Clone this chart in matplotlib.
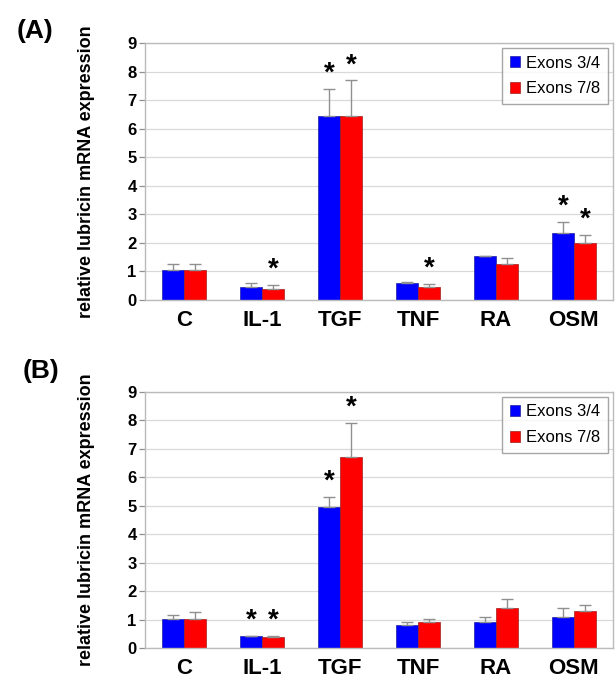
import matplotlib
matplotlib.use('Agg')
import matplotlib.pyplot as plt
import numpy as np

plt.rcParams['font.family'] = ['Liberation Sans', 'DejaVu Sans']

categories = ['C', 'IL-1', 'TGF', 'TNF', 'RA', 'OSM']
series_names = ['Exons 3/4', 'Exons 7/8']

# panel A
a_ex34 = [1.05, 0.44, 6.46, 0.61, 1.54, 2.34]
a_ex34_err = [0.20, 0.17, 0.93, 0.03, 0.0, 0.39]
a_ex78 = [1.05, 0.37, 6.46, 0.47, 1.25, 2.01]
a_ex78_err = [0.22, 0.15, 1.23, 0.09, 0.21, 0.27]
a_star34 = [False, False, True, False, False, True]
a_star78 = [False, True, True, True, False, True]

# panel B
b_ex34 = [1.04, 0.43, 4.95, 0.82, 0.92, 1.09]
b_ex34_err = [0.13, 0.0, 0.37, 0.10, 0.17, 0.33]
b_ex78 = [1.04, 0.39, 6.72, 0.92, 1.42, 1.31]
b_ex78_err = [0.24, 0.04, 1.20, 0.12, 0.30, 0.21]
b_star34 = [False, True, True, False, False, False]
b_star78 = [False, True, True, False, False, False]

fig = plt.figure(figsize=(6.16, 6.84), dpi=100)
axA = fig.add_axes([0.2354, 0.5614, 0.7596, 0.3757])
axB = fig.add_axes([0.2354, 0.0522, 0.7596, 0.3751])

w = 0.28
x = np.arange(len(categories))


def draw(ax, v1, e1, v2, e2, s1, s2):
    ax.set_axisbelow(True)
    ax.yaxis.grid(True, color='#d9d9d9', linewidth=0.9)
    ekw = dict(ecolor='#909090', elinewidth=1.0, capsize=4, capthick=1.0)
    ax.bar(x - w / 2, v1, w, color='#0000ff', edgecolor='#2020a0', linewidth=0.5,
           yerr=[np.zeros(len(e1)), e1], error_kw=ekw, label=series_names[0])
    ax.bar(x + w / 2, v2, w, color='#ff0000', edgecolor='#a02020', linewidth=0.5,
           yerr=[np.zeros(len(e2)), e2], error_kw=ekw, label=series_names[1])
    for i in range(len(x)):
        if s1[i]:
            ax.annotate('*', (x[i] - w / 2, v1[i] + e1[i]), xytext=(0, 1.5),
                        textcoords='offset points', ha='center', va='bottom',
                        fontsize=20, fontweight='bold')
        if s2[i]:
            ax.annotate('*', (x[i] + w / 2, v2[i] + e2[i]), xytext=(0, 1.5),
                        textcoords='offset points', ha='center', va='bottom',
                        fontsize=20, fontweight='bold')
    ax.set_xlim(-0.5, 5.5)
    ax.set_ylim(0, 9)
    ax.set_yticks(range(10))
    ax.set_xticks(x)
    ax.set_xticklabels(categories, fontsize=16, fontweight='bold')
    ax.tick_params(axis='x', length=0, pad=7)
    ax.tick_params(axis='y', length=4, width=0.9, color='#909090', pad=2, labelsize=12)
    for t in ax.get_yticklabels():
        t.set_fontweight('bold')
    for sp in ax.spines.values():
        sp.set_color('#bbbbbb')
        sp.set_linewidth(1.0)
    ax.set_ylabel('relative lubricin mRNA expression', fontsize=13, fontweight='bold')
    ax.yaxis.set_label_coords(-0.107, 0.5)
    leg = ax.legend(loc='upper right', fontsize=12, frameon=True, fancybox=False,
                    edgecolor='#909090', handlelength=0.65, handleheight=0.65,
                    handletextpad=0.35, borderaxespad=0.3, labelspacing=0.65,
                    borderpad=0.45)
    leg.get_frame().set_linewidth(1.0)


draw(axA, a_ex34, a_ex34_err, a_ex78, a_ex78_err, a_star34, a_star78)
draw(axB, b_ex34, b_ex34_err, b_ex78, b_ex78_err, b_star34, b_star78)

fig.text(0.027, 0.955, '(A)', fontsize=19, fontweight='bold', ha='left', va='center')
fig.text(0.036, 0.457, '(B)', fontsize=19, fontweight='bold', ha='left', va='center')

fig.savefig('out.png', dpi=100)
